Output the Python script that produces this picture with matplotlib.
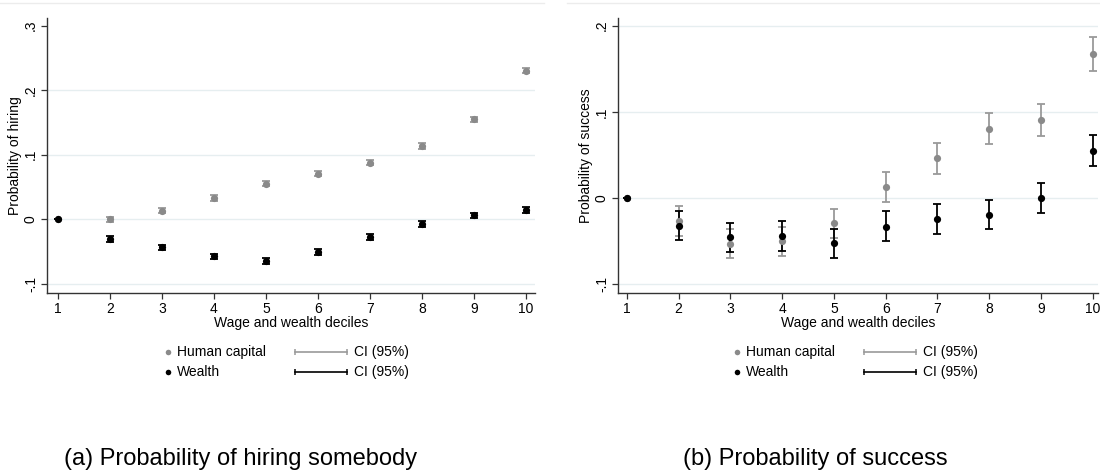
import matplotlib
matplotlib.use("Agg")
import matplotlib.pyplot as plt
from matplotlib.lines import Line2D
import numpy as np

plt.rcParams['font.family'] = ['Liberation Sans', 'DejaVu Sans']

deciles = [1, 2, 3, 4, 5, 6, 7, 8, 9, 10]

# Panel (a): probability of hiring
hire_hc = [0, 0.000, 0.0135, 0.033, 0.055, 0.071, 0.0875, 0.1135, 0.155, 0.230]
hire_hc_lo = [0, -0.004, 0.0095, 0.029, 0.051, 0.067, 0.0835, 0.1095, 0.151, 0.226]
hire_hc_hi = [0, 0.004, 0.0175, 0.037, 0.059, 0.075, 0.0915, 0.1175, 0.159, 0.234]
hire_w = [0, -0.031, -0.0435, -0.0575, -0.064, -0.051, -0.027, -0.0067, 0.006, 0.014]
hire_w_lo = [0, -0.0355, -0.048, -0.062, -0.0685, -0.0555, -0.0315, -0.0112, 0.0015, 0.0095]
hire_w_hi = [0, -0.0265, -0.039, -0.053, -0.0595, -0.0465, -0.0225, -0.0022, 0.0105, 0.0185]

# Panel (b): probability of success
succ_hc = [0, -0.0264, -0.0527, -0.050, -0.0287, 0.0128, 0.046, 0.080, 0.091, 0.1674]
succ_hc_lo = [0, -0.0434, -0.0698, -0.067, -0.0457, -0.0043, 0.0283, 0.0624, 0.0725, 0.1477]
succ_hc_hi = [0, -0.0093, -0.036, -0.0337, -0.0124, 0.0298, 0.0636, 0.0984, 0.1097, 0.1868]
succ_w = [0, -0.032, -0.0453, -0.0438, -0.0523, -0.033, -0.024, -0.0194, -0.0004, 0.055]
succ_w_lo = [0, -0.0488, -0.0624, -0.0609, -0.0694, -0.050, -0.0411, -0.0364, -0.0178, 0.0372]
succ_w_hi = [0, -0.0151, -0.0287, -0.0267, -0.0353, -0.0155, -0.007, -0.0023, 0.0171, 0.0729]

hire_yticks = [-0.1, 0, 0.1, 0.2, 0.3]
hire_yticklabels = ['-.1', '0', '.1', '.2', '.3']
succ_yticks = [-0.1, 0, 0.1, 0.2]
succ_yticklabels = ['-.1', '0', '.1', '.2']

xlabel = 'Wage and wealth deciles'
series_labels = ['Human capital', 'Wealth']
ci_label = 'CI (95%)'
captions = ['(a) Probability of hiring somebody', '(b) Probability of success']

HC_COL = '#8a8a8a'
HC_CI_COL = '#9a9a9a'
W_COL = '#000000'
GRID_COL = '#e6eef0'
FS = 10

fig = plt.figure(figsize=(11, 4.71), dpi=100)


def panel(rect, hc, hc_lo, hc_hi, w, w_lo, w_hi, yticks, ytl, ylim, xlim, ylabel, hide_top_grid, ylab_x):
    ax = fig.add_axes(rect)
    x = np.array(deciles)
    for vals, lo, hi, col, ccol in [(hc, hc_lo, hc_hi, HC_COL, HC_CI_COL),
                                    (w, w_lo, w_hi, W_COL, W_COL)]:
        v = np.array(vals); l = np.array(lo); h = np.array(hi)
        ax.errorbar(x, v, yerr=[v - l, h - v], fmt='none', ecolor=ccol,
                    elinewidth=1.3, capsize=3.2, capthick=1.3, zorder=3)
        ax.plot(x, v, 'o', color=col, markersize=5.2, zorder=4, markeredgewidth=0)
    ax.set_xlim(*xlim)
    ax.set_ylim(*ylim)
    ax.set_xticks(deciles)
    ax.set_xticklabels([str(d) for d in deciles], fontsize=FS)
    ax.set_yticks(yticks)
    ax.set_yticklabels(ytl, fontsize=FS, rotation=90, va='center')
    for s in ['top', 'right']:
        ax.spines[s].set_visible(False)
    for s in ['left', 'bottom']:
        ax.spines[s].set_color('#333333')
        ax.spines[s].set_linewidth(1.0)
    ax.tick_params(direction='out', length=4, width=0.9, color='#333333', pad=2.5)
    ax.yaxis.grid(True, color=GRID_COL, linewidth=1.0)
    ax.set_axisbelow(True)
    if hide_top_grid:
        ax.get_ygridlines()[-1].set_visible(False)
    ax.set_xlabel(xlabel, fontsize=FS, labelpad=0)
    ax.set_ylabel(ylabel, fontsize=FS)
    ax.yaxis.set_label_coords(ylab_x, 0.5)
    return ax


ax1 = panel([0.0427, 0.378, 0.4436, 0.584], hire_hc, hire_hc_lo, hire_hc_hi,
            hire_w, hire_w_lo, hire_w_hi, hire_yticks, hire_yticklabels,
            (-0.114, 0.312), (0.79, 10.17), 'Probability of hiring', True, -0.051)
ax2 = panel([0.5618, 0.378, 0.4364, 0.584], succ_hc, succ_hc_lo, succ_hc_hi,
            succ_w, succ_w_lo, succ_w_hi, succ_yticks, succ_yticklabels,
            (-0.11, 0.209), (0.83, 10.1), 'Probability of success', False, -0.052)

# faint top borders
W_, H_ = 1100.0, 471.0
fig.add_artist(Line2D([0, 544 / W_], [1 - 3 / H_, 1 - 3 / H_], color='#ececec', lw=1))
fig.add_artist(Line2D([567 / W_, 1.0], [1 - 3 / H_, 1 - 3 / H_], color='#ececec', lw=1))

# legends (manual)
for off in [0, 569]:
    rows = [(352, HC_COL, HC_CI_COL, series_labels[0]), (372, W_COL, W_COL, series_labels[1])]
    for yy, mcol, lcol, lab in rows:
        yf = 1 - yy / H_
        fig.add_artist(Line2D([(168 + off) / W_], [yf], marker='o', color=mcol,
                              markersize=4, markeredgewidth=0, linestyle='none'))
        fig.text((177 + off) / W_, yf, lab, fontsize=FS, va='center', ha='left')
        fig.add_artist(Line2D([(295 + off) / W_, (347 + off) / W_], [yf, yf], color=lcol,
                              lw=1.2, marker='|', markersize=5, markeredgewidth=1.1))
        fig.text((354 + off) / W_, yf, ci_label, fontsize=FS, va='center', ha='left')

fig.text(64 / W_, 1 - 465 / H_, captions[0], fontsize=17, va='baseline', ha='left')
fig.text(683 / W_, 1 - 465 / H_, captions[1], fontsize=17, va='baseline', ha='left')

fig.savefig('out.png', dpi=100)
